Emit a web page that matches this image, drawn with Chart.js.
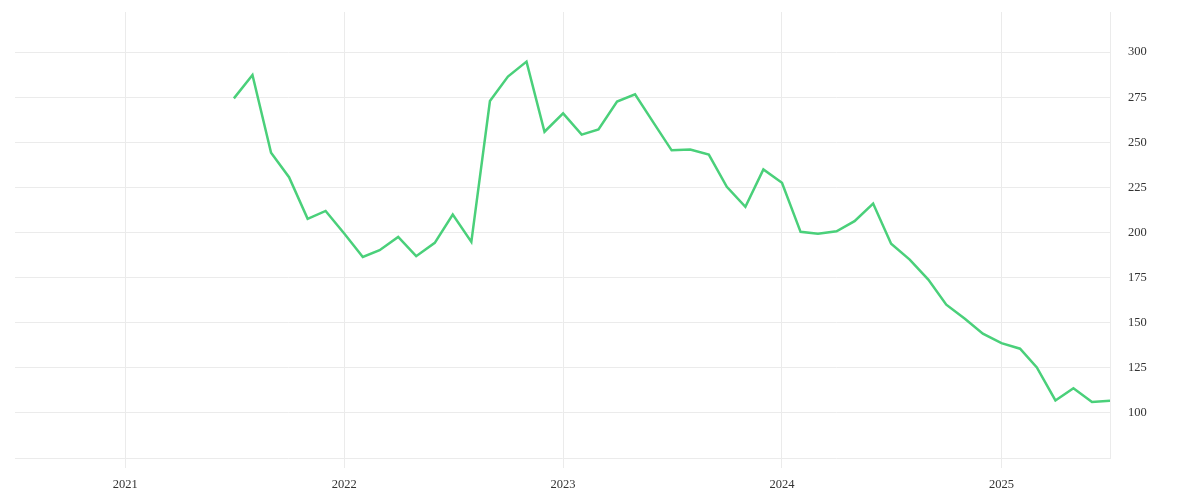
<!DOCTYPE html>
<html>
<head>
<meta charset="utf-8">
<script src="https://cdn.jsdelivr.net/npm/chart.js@4"></script>
<style>
html,body{margin:0;padding:0;background:#fff;}
#wrap{width:1200px;height:500px;position:relative;}
</style>
</head>
<body>
<div id="wrap"><canvas id="c"></canvas></div>
<script>
const months = [
 "2021-07","2021-08","2021-09","2021-10","2021-11","2021-12",
 "2022-01","2022-02","2022-03","2022-04","2022-05","2022-06",
 "2022-07","2022-08","2022-09","2022-10","2022-11","2022-12",
 "2023-01","2023-02","2023-03","2023-04","2023-05","2023-06",
 "2023-07","2023-08","2023-09","2023-10","2023-11","2023-12",
 "2024-01","2024-02","2024-03","2024-04","2024-05","2024-06",
 "2024-07","2024-08","2024-09","2024-10","2024-11","2024-12",
 "2025-01","2025-02","2025-03","2025-04","2025-05","2025-06",
 "2025-07"
];
const values = [
 274.4,287.4,244.3,230.7,207.6,212.0,
 199.5,186.5,190.2,197.6,186.9,194.3,
 210.0,194.8,272.9,286.5,294.8,255.9,
 266.1,254.3,257.2,272.6,276.7,260.8,
 245.6,246.1,243.2,225.4,214.3,235.0,
 227.6,200.4,199.3,200.7,206.3,216.1,
 193.8,185.0,173.9,160.0,152.2,143.9,
 138.7,135.6,125.2,106.9,113.7,106.1,
 106.7
];
const yearTicks = [2021,2022,2023,2024,2025];
const yTicks = [75,100,125,150,175,200,225,250,275,300];
const xStart = "2020-07";
const xEnd = "2025-07";

function toMs(s){ const [y,m]=s.split('-').map(Number); return Date.UTC(y,m-1,1); }

const points = months.map((m,i)=>({x:toMs(m), y:values[i]}));
const grid = '#ebebeb';
const font = {family:'"Liberation Serif", "DejaVu Serif", serif', size:12.5};

new Chart(document.getElementById('c'), {
  type:'line',
  data:{datasets:[{
    data:points,
    borderColor:'rgb(74,208,122)',
    borderWidth:2.5,
    pointRadius:0,
    tension:0,
    fill:false
  }]},
  options:{
    responsive:true,
    maintainAspectRatio:false,
    animation:false,
    layout:{padding:{top:12,left:15,right:0,bottom:0}},
    plugins:{legend:{display:false},tooltip:{enabled:false}},
    scales:{
      x:{
        type:'linear',
        min:toMs(xStart),
        max:toMs(xEnd),
        afterBuildTicks:(s)=>{ s.ticks = yearTicks.map(y=>({value:Date.UTC(y,0,1)})); },
        afterFit:(s)=>{ s.height = 42; s.paddingLeft = 0; s.paddingRight = 0; },
        grid:{color:grid, tickLength:10, drawTicks:true},
        border:{display:false},
        ticks:{
          color:'#333',
          font:font,
          padding:9,
          maxRotation:0,
          callback:(v)=>String(new Date(v).getUTCFullYear())
        }
      },
      y:{
        position:'right',
        min:75,
        max:322.3,
        afterBuildTicks:(s)=>{ s.ticks = yTicks.map(v=>({value:v})); },
        afterFit:(s)=>{ s.width = 90; s.paddingTop = 0; s.paddingBottom = 0; },
        grid:{color:grid, drawTicks:false},
        border:{display:true,color:grid},
        ticks:{
          color:'#333',
          font:font,
          padding:18,
          callback:(v)=> v===75 ? '' : String(v)
        }
      }
    }
  }
});
</script>
</body>
</html>
